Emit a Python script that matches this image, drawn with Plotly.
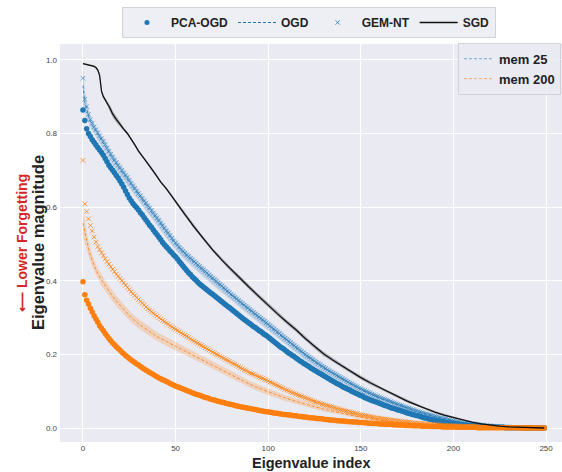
import plotly.graph_objects as go

# ---------------- data ----------------
idx = list(range(250))

pca_ogd_mem25 = [
    0.864, 0.835, 0.813, 0.800, 0.792, 0.783, 0.776, 0.769, 0.762, 0.755,
    0.748, 0.741, 0.732, 0.723, 0.714, 0.707, 0.700, 0.693, 0.686, 0.679,
    0.671, 0.663, 0.654, 0.644, 0.634, 0.625, 0.617, 0.610, 0.604, 0.598,
    0.592, 0.585, 0.579, 0.572, 0.565, 0.558, 0.551, 0.545, 0.538, 0.531,
    0.525, 0.518, 0.511, 0.504, 0.498, 0.492, 0.487, 0.481, 0.476, 0.470,
    0.465, 0.459, 0.452, 0.446, 0.440, 0.434, 0.428, 0.422, 0.417, 0.411,
    0.406, 0.401, 0.396, 0.391, 0.387, 0.383, 0.379, 0.375, 0.371, 0.367,
    0.363, 0.359, 0.355, 0.351, 0.347, 0.343, 0.339, 0.335, 0.331, 0.327,
    0.323, 0.319, 0.315, 0.311, 0.307, 0.303, 0.299, 0.295, 0.291, 0.287,
    0.284, 0.280, 0.276, 0.273, 0.269, 0.265, 0.262, 0.258, 0.254, 0.251,
    0.247, 0.243, 0.239, 0.235, 0.231, 0.227, 0.223, 0.219, 0.216, 0.212,
    0.208, 0.204, 0.201, 0.197, 0.194, 0.190, 0.187, 0.183, 0.180, 0.176,
    0.173, 0.170, 0.167, 0.163, 0.160, 0.157, 0.154, 0.151, 0.148, 0.145,
    0.142, 0.139, 0.136, 0.133, 0.130, 0.127, 0.124, 0.121, 0.119, 0.116,
    0.113, 0.110, 0.108, 0.105, 0.103, 0.100, 0.098, 0.095, 0.093, 0.090,
    0.088, 0.086, 0.083, 0.081, 0.079, 0.077, 0.075, 0.073, 0.071, 0.069,
    0.067, 0.065, 0.063, 0.061, 0.060, 0.058, 0.056, 0.054, 0.053, 0.051,
    0.049, 0.048, 0.046, 0.045, 0.043, 0.041, 0.040, 0.038, 0.037, 0.035,
    0.034, 0.033, 0.031, 0.030, 0.028, 0.027, 0.026, 0.024, 0.023, 0.022,
    0.021, 0.020, 0.019, 0.018, 0.017, 0.016, 0.015, 0.014, 0.013, 0.013,
    0.012, 0.011, 0.011, 0.010, 0.009, 0.009, 0.008, 0.008, 0.007, 0.007,
    0.006, 0.006, 0.005, 0.005, 0.005, 0.004, 0.004, 0.004, 0.003, 0.003,
    0.003, 0.003, 0.002, 0.002, 0.002, 0.002, 0.002, 0.002, 0.001, 0.001,
    0.001, 0.001, 0.001, 0.001, 0.001, 0.001, 0.001, 0.001, 0.000, 0.000,
    0.000, 0.000, 0.000, 0.000, 0.000, 0.000, 0.000, 0.000, 0.000, 0.000,
]

gem_nt_mem25 = [
    0.950, 0.893, 0.873, 0.852, 0.838, 0.828, 0.818, 0.810, 0.802, 0.794,
    0.786, 0.779, 0.770, 0.761, 0.752, 0.744, 0.736, 0.728, 0.721, 0.714,
    0.707, 0.700, 0.693, 0.687, 0.681, 0.673, 0.665, 0.658, 0.651, 0.644,
    0.637, 0.631, 0.624, 0.617, 0.611, 0.604, 0.598, 0.591, 0.584, 0.577,
    0.571, 0.564, 0.557, 0.550, 0.543, 0.536, 0.530, 0.523, 0.516, 0.509,
    0.503, 0.497, 0.491, 0.485, 0.480, 0.475, 0.470, 0.466, 0.461, 0.457,
    0.452, 0.448, 0.443, 0.439, 0.434, 0.430, 0.425, 0.421, 0.416, 0.412,
    0.407, 0.403, 0.399, 0.394, 0.390, 0.386, 0.381, 0.377, 0.372, 0.368,
    0.363, 0.359, 0.355, 0.351, 0.347, 0.342, 0.338, 0.334, 0.330, 0.326,
    0.322, 0.318, 0.314, 0.310, 0.306, 0.302, 0.298, 0.294, 0.290, 0.286,
    0.282, 0.278, 0.273, 0.269, 0.265, 0.261, 0.257, 0.252, 0.248, 0.244,
    0.240, 0.236, 0.232, 0.228, 0.224, 0.220, 0.216, 0.212, 0.208, 0.204,
    0.200, 0.196, 0.193, 0.189, 0.186, 0.182, 0.179, 0.175, 0.172, 0.168,
    0.165, 0.162, 0.158, 0.155, 0.152, 0.149, 0.146, 0.143, 0.140, 0.137,
    0.134, 0.131, 0.128, 0.125, 0.122, 0.120, 0.117, 0.114, 0.112, 0.109,
    0.107, 0.104, 0.102, 0.099, 0.097, 0.095, 0.092, 0.090, 0.088, 0.086,
    0.084, 0.082, 0.080, 0.078, 0.076, 0.074, 0.072, 0.070, 0.068, 0.066,
    0.064, 0.062, 0.061, 0.059, 0.057, 0.055, 0.054, 0.052, 0.050, 0.049,
    0.047, 0.045, 0.044, 0.042, 0.041, 0.039, 0.038, 0.036, 0.035, 0.034,
    0.032, 0.031, 0.030, 0.028, 0.027, 0.026, 0.025, 0.024, 0.022, 0.021,
    0.020, 0.019, 0.018, 0.017, 0.016, 0.015, 0.014, 0.014, 0.013, 0.012,
    0.011, 0.011, 0.010, 0.009, 0.009, 0.008, 0.008, 0.007, 0.007, 0.006,
    0.006, 0.005, 0.005, 0.005, 0.004, 0.004, 0.004, 0.003, 0.003, 0.003,
    0.003, 0.002, 0.002, 0.002, 0.002, 0.002, 0.002, 0.001, 0.001, 0.001,
    0.001, 0.001, 0.001, 0.001, 0.001, 0.000, 0.000, 0.000, 0.000, 0.000,
]

pca_ogd_mem200 = [
    0.397, 0.362, 0.347, 0.337, 0.325, 0.315, 0.305, 0.296, 0.287, 0.278,
    0.271, 0.264, 0.257, 0.250, 0.243, 0.237, 0.231, 0.226, 0.221, 0.216,
    0.211, 0.206, 0.202, 0.197, 0.193, 0.189, 0.185, 0.181, 0.178, 0.174,
    0.171, 0.167, 0.164, 0.160, 0.157, 0.154, 0.151, 0.148, 0.145, 0.142,
    0.139, 0.136, 0.134, 0.131, 0.129, 0.126, 0.124, 0.121, 0.119, 0.116,
    0.114, 0.112, 0.110, 0.108, 0.106, 0.104, 0.102, 0.100, 0.098, 0.096,
    0.094, 0.092, 0.090, 0.089, 0.087, 0.085, 0.083, 0.082, 0.080, 0.078,
    0.077, 0.076, 0.074, 0.073, 0.071, 0.070, 0.069, 0.067, 0.066, 0.065,
    0.064, 0.063, 0.061, 0.060, 0.059, 0.058, 0.057, 0.056, 0.055, 0.054,
    0.053, 0.052, 0.051, 0.050, 0.049, 0.048, 0.047, 0.046, 0.045, 0.044,
    0.044, 0.043, 0.042, 0.041, 0.040, 0.040, 0.039, 0.038, 0.037, 0.037,
    0.036, 0.035, 0.035, 0.034, 0.033, 0.033, 0.032, 0.031, 0.031, 0.030,
    0.030, 0.029, 0.028, 0.028, 0.027, 0.027, 0.026, 0.026, 0.025, 0.025,
    0.024, 0.023, 0.023, 0.022, 0.022, 0.021, 0.021, 0.020, 0.020, 0.019,
    0.019, 0.019, 0.018, 0.018, 0.017, 0.017, 0.016, 0.016, 0.016, 0.015,
    0.015, 0.015, 0.014, 0.014, 0.013, 0.013, 0.013, 0.012, 0.012, 0.012,
    0.011, 0.011, 0.011, 0.010, 0.010, 0.010, 0.010, 0.009, 0.009, 0.009,
    0.008, 0.008, 0.008, 0.008, 0.007, 0.007, 0.007, 0.007, 0.006, 0.006,
    0.006, 0.006, 0.006, 0.005, 0.005, 0.005, 0.005, 0.005, 0.004, 0.004,
    0.004, 0.004, 0.004, 0.004, 0.003, 0.003, 0.003, 0.003, 0.003, 0.003,
    0.003, 0.003, 0.002, 0.002, 0.002, 0.002, 0.002, 0.002, 0.002, 0.002,
    0.002, 0.002, 0.002, 0.001, 0.001, 0.001, 0.001, 0.001, 0.001, 0.001,
    0.001, 0.001, 0.001, 0.001, 0.001, 0.001, 0.001, 0.001, 0.001, 0.001,
    0.001, 0.001, 0.001, 0.001, 0.001, 0.000, 0.000, 0.000, 0.000, 0.000,
    0.000, 0.000, 0.000, 0.000, 0.000, 0.000, 0.000, 0.000, 0.000, 0.000,
]

gem_nt_mem200 = [
    0.727, 0.609, 0.588, 0.568, 0.550, 0.535, 0.519, 0.505, 0.493, 0.484,
    0.476, 0.468, 0.460, 0.452, 0.445, 0.438, 0.431, 0.425, 0.418, 0.412,
    0.406, 0.400, 0.394, 0.388, 0.382, 0.376, 0.370, 0.365, 0.360, 0.354,
    0.349, 0.344, 0.339, 0.334, 0.329, 0.324, 0.320, 0.316, 0.312, 0.308,
    0.304, 0.300, 0.296, 0.292, 0.289, 0.285, 0.282, 0.278, 0.275, 0.271,
    0.268, 0.265, 0.262, 0.258, 0.255, 0.252, 0.249, 0.246, 0.242, 0.239,
    0.236, 0.233, 0.230, 0.227, 0.224, 0.221, 0.218, 0.215, 0.212, 0.209,
    0.206, 0.203, 0.200, 0.198, 0.195, 0.192, 0.189, 0.186, 0.184, 0.181,
    0.178, 0.175, 0.173, 0.170, 0.167, 0.164, 0.161, 0.158, 0.156, 0.153,
    0.150, 0.148, 0.146, 0.144, 0.141, 0.139, 0.137, 0.135, 0.132, 0.130,
    0.128, 0.125, 0.123, 0.120, 0.118, 0.115, 0.113, 0.110, 0.108, 0.105,
    0.103, 0.101, 0.098, 0.096, 0.094, 0.092, 0.090, 0.088, 0.086, 0.084,
    0.082, 0.080, 0.078, 0.076, 0.074, 0.072, 0.070, 0.069, 0.067, 0.065,
    0.064, 0.062, 0.061, 0.059, 0.058, 0.056, 0.055, 0.053, 0.052, 0.050,
    0.049, 0.048, 0.046, 0.045, 0.044, 0.042, 0.041, 0.040, 0.039, 0.037,
    0.036, 0.035, 0.034, 0.033, 0.032, 0.031, 0.030, 0.029, 0.028, 0.027,
    0.027, 0.026, 0.025, 0.024, 0.024, 0.023, 0.022, 0.021, 0.021, 0.020,
    0.019, 0.019, 0.018, 0.017, 0.017, 0.016, 0.016, 0.015, 0.014, 0.014,
    0.013, 0.013, 0.012, 0.012, 0.012, 0.011, 0.011, 0.010, 0.010, 0.010,
    0.009, 0.009, 0.009, 0.008, 0.008, 0.007, 0.007, 0.007, 0.007, 0.006,
    0.006, 0.006, 0.006, 0.005, 0.005, 0.005, 0.005, 0.005, 0.004, 0.004,
    0.004, 0.004, 0.004, 0.004, 0.003, 0.003, 0.003, 0.003, 0.003, 0.003,
    0.002, 0.002, 0.002, 0.002, 0.002, 0.002, 0.002, 0.002, 0.002, 0.002,
    0.002, 0.001, 0.001, 0.001, 0.001, 0.001, 0.001, 0.001, 0.001, 0.001,
    0.001, 0.001, 0.001, 0.000, 0.000, 0.000, 0.000, 0.000, 0.000, 0.000,
]

# OGD (mean and spread), sampled indices
ogd_idx = [0, 1, 2, 3, 4, 5, 6, 8, 10, 12, 14, 16, 18, 20, 23, 26,
           30, 35, 40, 45, 50, 55, 60, 65, 70, 75, 80, 85, 90, 95, 100,
           110, 120, 130, 140, 150, 160, 170, 180, 190, 200, 210, 220, 230, 240, 249]
ogd_mem25 = [0.930, 0.885, 0.866, 0.846, 0.832, 0.822, 0.813, 0.797, 0.781, 0.765,
             0.747, 0.731, 0.716, 0.702, 0.683, 0.660,
             0.632, 0.598, 0.566, 0.531, 0.498, 0.471, 0.447, 0.425, 0.403, 0.382,
             0.359, 0.338, 0.318, 0.298, 0.278,
             0.237, 0.197, 0.162, 0.132, 0.104, 0.081, 0.062, 0.045, 0.031, 0.019,
             0.010, 0.005, 0.002, 0.001, 0.000]
ogd_mem25_std = [0.050, 0.030, 0.022, 0.018, 0.016, 0.015, 0.015, 0.015, 0.015, 0.015,
                 0.015, 0.015, 0.015, 0.015, 0.015, 0.015,
                 0.015, 0.015, 0.015, 0.015, 0.015, 0.014, 0.014, 0.014, 0.014, 0.014,
                 0.013, 0.013, 0.013, 0.013, 0.013,
                 0.012, 0.012, 0.011, 0.010, 0.009, 0.008, 0.007, 0.006, 0.005, 0.004,
                 0.003, 0.002, 0.001, 0.001, 0.000]
ogd_mem200 = [0.556, 0.530, 0.510, 0.488, 0.470, 0.455, 0.442, 0.419, 0.401, 0.387,
              0.372, 0.358, 0.345, 0.334, 0.316, 0.300,
              0.283, 0.265, 0.248, 0.235, 0.222, 0.209, 0.197, 0.185, 0.172, 0.158,
              0.145, 0.132, 0.119, 0.108, 0.098,
              0.080, 0.065, 0.051, 0.040, 0.029, 0.021, 0.015, 0.010, 0.007, 0.004,
              0.003, 0.002, 0.001, 0.001, 0.000]
ogd_mem200_std = [0.035, 0.030, 0.025, 0.020, 0.018, 0.016, 0.015, 0.015, 0.015, 0.015,
                  0.015, 0.014, 0.014, 0.014, 0.014, 0.013,
                  0.013, 0.013, 0.012, 0.012, 0.012, 0.011, 0.011, 0.011, 0.010, 0.010,
                  0.010, 0.010, 0.009, 0.009, 0.009,
                  0.008, 0.007, 0.006, 0.005, 0.005, 0.004, 0.003, 0.003, 0.002, 0.002,
                  0.001, 0.001, 0.001, 0.000, 0.000]

# SGD
sgd_idx = [0, 1, 2, 3, 4, 5, 6, 7, 8, 9, 10, 11, 12, 13, 14, 15, 16,
           18, 20, 22, 24, 26, 28, 30,
           33, 36, 39, 42, 45, 48,
           50, 55, 60, 65, 70, 75, 80, 85, 90, 95, 100, 105, 110, 115, 120, 125,
           130, 135, 140, 145, 150, 155, 160, 165, 170, 175, 180, 185, 190, 195,
           200, 205, 210, 215, 220, 225, 230, 235, 240, 245, 249]
sgd = [0.990, 0.989, 0.988, 0.987, 0.986, 0.984, 0.982, 0.979, 0.972, 0.958,
       0.915, 0.900, 0.892, 0.883, 0.874, 0.864, 0.853,
       0.838, 0.824, 0.812, 0.800, 0.786, 0.769, 0.752,
       0.733, 0.711, 0.690, 0.668, 0.650, 0.630,
       0.615, 0.580, 0.546, 0.514, 0.484, 0.456, 0.430, 0.406, 0.381, 0.357,
       0.334, 0.310, 0.288, 0.267, 0.243, 0.221, 0.201, 0.184, 0.168, 0.152,
       0.137, 0.123, 0.110, 0.097, 0.085, 0.073, 0.063, 0.052, 0.043, 0.035,
       0.028, 0.022, 0.016, 0.011, 0.007, 0.005, 0.003, 0.002, 0.001, 0.0005,
       0.000]
sgd_std = [0.002, 0.002, 0.002, 0.002, 0.002, 0.002, 0.003, 0.003, 0.004, 0.006,
           0.006, 0.005, 0.005, 0.006, 0.008, 0.009, 0.009,
           0.008, 0.007, 0.005, 0.004, 0.004, 0.004, 0.004,
           0.004, 0.005, 0.005, 0.004, 0.004, 0.004,
           0.005, 0.005, 0.005, 0.005, 0.005, 0.005, 0.006, 0.006, 0.006, 0.006,
           0.006, 0.006, 0.006, 0.006, 0.006, 0.006, 0.006, 0.005, 0.005, 0.005,
           0.005, 0.005, 0.004, 0.004, 0.004, 0.004, 0.003, 0.003, 0.003, 0.003,
           0.002, 0.002, 0.002, 0.001, 0.001, 0.001, 0.001, 0.001, 0.000, 0.000,
           0.000]

x_ticks = [0, 50, 100, 150, 200, 250]
y_ticks = [0.0, 0.2, 0.4, 0.6, 0.8, 1.0]
y_tick_labels = ["0.0", "0.2", "0.4", "0.6", "0.8", "1.0"]

# ---------------- style ----------------
BLUE = "#1f77b4"
ORANGE = "#ff7f0e"
FONT = "Liberation Sans, Arial, sans-serif"

fig = go.Figure()


def add_band(x, mean, spread, fill):
    upper = [m + s for m, s in zip(mean, spread)]
    lower = [m - s for m, s in zip(mean, spread)]
    fig.add_trace(go.Scatter(x=x, y=upper, mode="lines", line=dict(width=0),
                             showlegend=False, hoverinfo="skip"))
    fig.add_trace(go.Scatter(x=x, y=lower, mode="lines", line=dict(width=0),
                             fill="tonexty", fillcolor=fill,
                             showlegend=False, hoverinfo="skip"))


# mem 25
add_band(ogd_idx, ogd_mem25, ogd_mem25_std, "rgba(31,119,180,0.22)")
fig.add_trace(go.Scatter(x=ogd_idx, y=ogd_mem25, mode="lines",
                         line=dict(color="rgba(31,119,180,0.85)", width=1, dash="3px,2px"),
                         showlegend=False))
fig.add_trace(go.Scatter(x=idx, y=gem_nt_mem25, mode="markers",
                         marker=dict(symbol="x-thin", size=4.5,
                                     line=dict(width=1.0, color="rgba(31,119,180,0.6)")),
                         showlegend=False))
fig.add_trace(go.Scatter(x=idx, y=pca_ogd_mem25, mode="markers",
                         marker=dict(symbol="circle", size=5.5, color=BLUE),
                         showlegend=False))

# mem 200
add_band(ogd_idx, ogd_mem200, ogd_mem200_std, "rgba(255,127,14,0.22)")
fig.add_trace(go.Scatter(x=ogd_idx, y=ogd_mem200, mode="lines",
                         line=dict(color="rgba(255,127,14,0.85)", width=1, dash="3px,2px"),
                         showlegend=False))
fig.add_trace(go.Scatter(x=idx, y=gem_nt_mem200, mode="markers",
                         marker=dict(symbol="x-thin", size=4.5,
                                     line=dict(width=1.0, color="rgba(255,127,14,0.8)")),
                         showlegend=False))
fig.add_trace(go.Scatter(x=idx, y=pca_ogd_mem200, mode="markers",
                         marker=dict(symbol="circle", size=5.5, color=ORANGE),
                         showlegend=False))

# SGD
add_band(sgd_idx, sgd, sgd_std, "rgba(0,0,0,0.25)")
fig.add_trace(go.Scatter(x=sgd_idx, y=sgd, mode="lines",
                         line=dict(color="#111111", width=1.3), showlegend=False))

# legend entries (method)
fig.add_trace(go.Scatter(x=[None], y=[None], mode="markers", name="PCA-OGD",
                         marker=dict(symbol="circle", size=5, color=BLUE), legend="legend"))
fig.add_trace(go.Scatter(x=[None], y=[None], mode="lines", name="OGD",
                         line=dict(color=BLUE, width=1, dash="3px,2px"), legend="legend"))
fig.add_trace(go.Scatter(x=[None], y=[None], mode="markers", name="GEM-NT",
                         marker=dict(symbol="x-thin", size=4.5,
                                     line=dict(width=1, color="rgba(31,119,180,0.8)")),
                         legend="legend"))
fig.add_trace(go.Scatter(x=[None], y=[None], mode="lines", name="SGD",
                         line=dict(color="#111111", width=1.3), legend="legend"))
# legend entries (memory)
fig.add_trace(go.Scatter(x=[None], y=[None], mode="lines", name="mem 25",
                         line=dict(color="rgba(31,119,180,0.6)", width=1, dash="3px,2px"),
                         legend="legend2"))
fig.add_trace(go.Scatter(x=[None], y=[None], mode="lines", name="mem 200",
                         line=dict(color="rgba(255,127,14,0.6)", width=1, dash="3px,2px"),
                         legend="legend2"))

fig.update_layout(
    width=562, height=472,
    margin=dict(l=60, r=0, t=44, b=30),
    paper_bgcolor="white",
    plot_bgcolor="#EAEAF2",
    font=dict(family=FONT, color="#222222"),
    legend=dict(orientation="h", x=0.1235, y=1.093, xanchor="left", yanchor="top",
                traceorder="normal", itemwidth=38,
                bgcolor="rgba(234,234,242,0.8)", bordercolor="#d2d2da", borderwidth=1,
                font=dict(family=FONT, size=12, color="#222222", weight="bold")),
    legend2=dict(orientation="v", x=0.998, y=1.003, xanchor="right", yanchor="top",
                 traceorder="normal",
                 bgcolor="rgba(234,234,242,0.8)", bordercolor="#d2d2da", borderwidth=1,
                 font=dict(family=FONT, size=13, color="#222222", weight="bold")),
    xaxis=dict(range=[-12.4, 258.6], tickvals=x_ticks, showgrid=True, gridcolor="white",
               gridwidth=1, zeroline=False, showline=False, ticks="", automargin=False,
               tickfont=dict(family=FONT, size=8, color="#444444"), ticklabelstandoff=0),
    yaxis=dict(range=[-0.038, 1.043], tickvals=y_ticks, ticktext=y_tick_labels,
               showgrid=True, gridcolor="white", gridwidth=1, zeroline=False,
               showline=False, ticks="", automargin=False,
               tickfont=dict(family=FONT, size=8, color="#444444"), ticklabelstandoff=2),
    annotations=[
        dict(text="<b>Eigenvalue index</b>", xref="paper", yref="paper", x=0.5, y=-0.0535,
             xanchor="center", yanchor="middle", showarrow=False,
             font=dict(family=FONT, size=14.5, color="#222222")),
        dict(text="<b>Eigenvalue magnitude</b>", xref="paper", yref="paper",
             x=-0.0438, y=0.5, xanchor="center", yanchor="middle", textangle=-90,
             showarrow=False, font=dict(family=FONT, size=16.5, color="#222222")),
        dict(text="<b>⟵ Lower Forgetting</b>", xref="paper", yref="paper",
             x=-0.0757, y=0.5, xanchor="center", yanchor="middle", textangle=-90,
             showarrow=False, font=dict(family=FONT, size=14, color="#d62728")),
    ],
)

fig.write_html("out.html", config={"displayModeBar": False},
               post_script="document.body.style.margin='0px';")
